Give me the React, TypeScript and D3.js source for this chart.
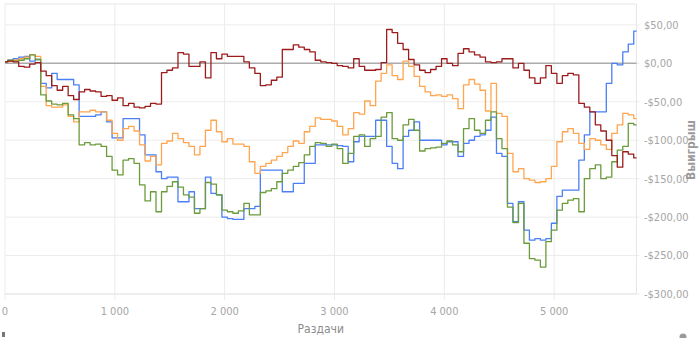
import React from "react";
import * as d3 from "d3";

const HAND_STEP = 50;

const redValues = [
  2, 3, 2, -4, -5, -1, 1, -10, -16, -29,
  -35, -30, -42, -47, -37, -34, -36, -37, -43, -42,
  -48, -45, -55, -52, -57, -58, -56, -52, -53, -12,
  -9, -6, 14, 12, -4, -4, 2, -19, 14, 6,
  12, 9, 9, 9, 2, -6, -13, -29, -28, -22,
  -18, 18, 18, 24, 21, 18, 15, 4, 2, 1,
  0, -3, -4, -6, 6, -4, -9, -9, -8, 1,
  44, 40, 26, 18, 5, -2, -9, -12, -8, -4,
  6, 0, -3, 13, 19, 15, 11, 8, 2, 1,
  2, 6, 6, -6, 0, -9, -19, -26, -19, -3,
  -13, -26, -16, -13, -15, -52, -57, -63, -80, -88,
  -100, -120, -135, -115, -118, -123,
];

const blueValues = [
  2, 4, 6, 8, 9, 3, 5, -26, -32, -13,
  -21, -21, -21, -28, -69, -69, -69, -67, -63, -76,
  -97, -97, -72, -72, -72, -93, -119, -119, -141, -150,
  -148, -148, -180, -180, -167, -189, -189, -148, -169, -171,
  -200, -202, -203, -203, -189, -189, -186, -139, -139, -139,
  -139, -167, -167, -156, -156, -130, -130, -106, -106, -106,
  -106, -107, -108, -128, -102, -95, -95, -95, -74, -74,
  -108, -130, -137, -95, -87, -76, -100, -100, -100, -100,
  -106, -102, -102, -121, -104, -100, -95, -93, -87, -70,
  -117, -121, -182, -206, -180, -217, -230, -228, -230, -228,
  -208, -173, -165, -165, -165, -126, -93, -63, -63, -63,
  -26, 0, -2, 15, 25, 42,
];

const orangeValues = [
  2, 3, 4, 6, 8, 11, 9, -30, -55, -57,
  -57, -54, -69, -76, -63, -63, -61, -63, -63, -74,
  -91, -100, -85, -82, -88, -106, -127, -121, -132, -104,
  -101, -91, -98, -103, -108, -119, -108, -87, -74, -89,
  -102, -98, -105, -105, -108, -128, -143, -134, -130, -126,
  -121, -116, -108, -101, -104, -89, -82, -71, -73, -73,
  -75, -82, -93, -85, -64, -66, -49, -55, -23, -13,
  -2, -16, -21, 3, -4, -17, -30, -37, -42, -41,
  -43, -41, -46, -59, -28, -21, -27, -35, -62, -26,
  -65, -69, -117, -141, -137, -150, -152, -155, -154, -150,
  -134, -102, -89, -85, -91, -104, -112, -98, -100, -106,
  -112, -91, -80, -65, -67, -72,
];

const greenValues = [
  2, 4, 3, 4, 6, 11, 5, -41, -49, -53,
  -54, -52, -67, -72, -106, -103, -106, -105, -108, -121,
  -139, -145, -126, -124, -130, -158, -179, -167, -193, -167,
  -160, -154, -161, -171, -174, -195, -189, -155, -157, -171,
  -191, -193, -195, -192, -182, -197, -197, -168, -166, -163,
  -154, -143, -139, -134, -129, -119, -108, -103, -104, -108,
  -105, -111, -130, -117, -95, -93, -108, -98, -95, -70,
  -64, -98, -100, -80, -73, -87, -114, -111, -110, -109,
  -104, -101, -106, -115, -85, -72, -87, -91, -74, -63,
  -98, -111, -187, -207, -182, -234, -254, -256, -265, -232,
  -217, -191, -182, -178, -176, -193, -150, -137, -132, -150,
  -148, -128, -113, -108, -78, -80,
];

const hands = redValues.map((_, i) => i * HAND_STEP);

const xTicks = [0, 1000, 2000, 3000, 4000, 5000];
const xTickLabels = ["0", "1\u00a0000", "2\u00a0000", "3\u00a0000", "4\u00a0000", "5\u00a0000"];
const yTicks = [50, 0, -50, -100, -150, -200, -250, -300];

const xTitle = "Раздачи";
const yTitle = "Выигрыш";

const seriesList = [
  { name: "blue", values: blueValues, color: "#4a7ff5" },
  { name: "orange", values: orangeValues, color: "#ffa54f" },
  { name: "green", values: greenValues, color: "#6b9b3a" },
  { name: "red", values: redValues, color: "#9c1c1c" },
];

const fmtMoney = (v: number) => (v < 0 ? `-$${Math.abs(v)},00` : `$${v},00`);

export default function App() {
  const W = 700;
  const H = 338;
  const left = 5;
  const right = 636.5;
  const top = 4;
  const bottom = 294;

  const x = d3.scaleLinear().domain([0, 5750]).range([left, right]);
  const y = d3.scaleLinear().domain([-300, 50]).range([bottom, 24.9]);

  const font = "'Liberation Sans Narrow', 'DejaVu Sans Condensed', Roboto, sans-serif";

  return (
    <svg
      width={W}
      height={H}
      viewBox={`0 0 ${W} ${H}`}
      style={{ position: "absolute", left: 0, top: 0, background: "#fff" }}
    >
      {yTicks.map((t) => (
        <line
          key={"hy" + t}
          x1={left}
          x2={right + 3}
          y1={y(t)}
          y2={y(t)}
          stroke="#ececec"
          strokeWidth={1}
        />
      ))}
      {xTicks.map((t) => (
        <line
          key={"vx" + t}
          x1={x(t)}
          x2={x(t)}
          y1={top}
          y2={bottom + 6}
          stroke="#ececec"
          strokeWidth={1}
        />
      ))}
      <line x1={left} x2={right} y1={top} y2={top} stroke="#e6e6e6" />
      <line x1={right} x2={right} y1={top} y2={bottom} stroke="#e6e6e6" />
      <line x1={left} x2={right} y1={bottom} y2={bottom} stroke="#e6e6e6" />
      <line x1={left} x2={right} y1={y(0)} y2={y(0)} stroke="#ababab" strokeWidth={1.5} />

      {seriesList.map((s) => {
        const gen = d3
          .line<number>()
          .x((_, i) => x(hands[i]))
          .y((d) => y(d))
          .curve(d3.curveStep);
        return (
          <path
            key={s.name}
            d={gen(s.values) || ""}
            fill="none"
            stroke={s.color}
            strokeWidth={1.3}
            strokeLinejoin="round"
          />
        );
      })}

      {yTicks.map((t) => (
        <text
          key={"yl" + t}
          x={644}
          y={y(t)}
          dy="0.35em"
          fontFamily={font}
          fontSize={11}
          fill="#a6a6a6"
        >
          {fmtMoney(t)}
        </text>
      ))}
      {xTicks.map((t, i) => (
        <text
          key={"xl" + t}
          x={x(t)}
          y={315}
          textAnchor="middle"
          fontFamily={font}
          fontSize={11}
          fill="#a6a6a6"
        >
          {xTickLabels[i]}
        </text>
      ))}
      <text
        x={(left + right) / 2}
        y={333}
        textAnchor="middle"
        fontFamily={font}
        fontSize={12}
        fill="#8c8c8c"
      >
        {xTitle}
      </text>
      <text
        transform={`translate(695,150) rotate(-90)`}
        textAnchor="middle"
        fontFamily={font}
        fontSize={12}
        fontWeight="bold"
        fill="#9a9a9a"
      >
        {yTitle}
      </text>
      <circle cx={683} cy={337} r={3.5} fill="#9a9a9a" />
      <rect x={2} y={332} width={3} height={5} fill="#777" />
    </svg>
  );
}
